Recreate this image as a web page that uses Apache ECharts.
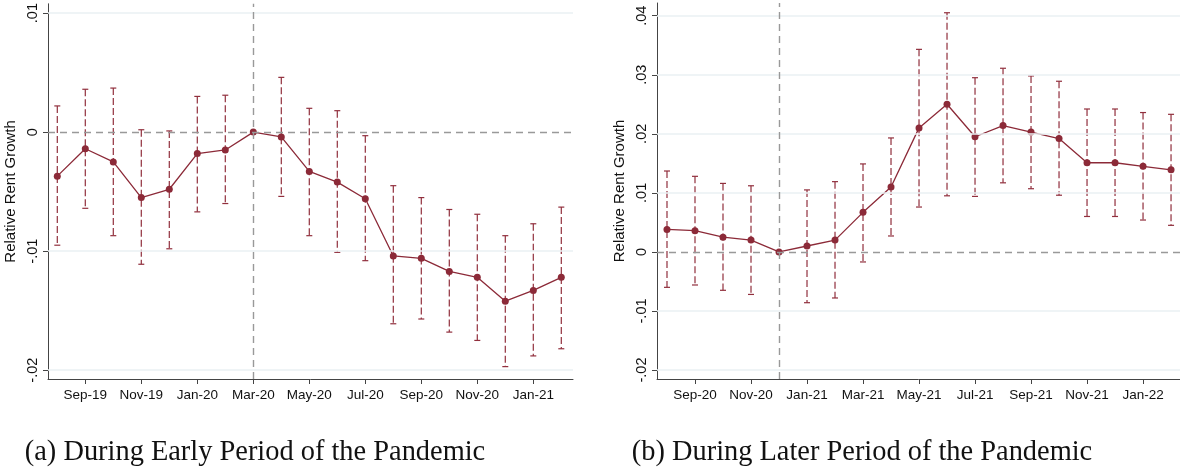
<!DOCTYPE html>
<html>
<head>
<meta charset="utf-8">
<script src="https://cdn.jsdelivr.net/npm/echarts@6/dist/echarts.min.js"></script>
<style>
  html, body { margin: 0; padding: 0; background: #fff; }
  #chart { width: 1180px; height: 475px; }
</style>
</head>
<body>
<div id="chart"></div>
<script>
// panel (a): early period
var monthsA = ['Aug-19','Sep-19','Oct-19','Nov-19','Dec-19','Jan-20','Feb-20','Mar-20','Apr-20','May-20',
               'Jun-20','Jul-20','Aug-20','Sep-20','Oct-20','Nov-20','Dec-20','Jan-21','Feb-21'];
var estA   = [-0.0037,-0.0014,-0.0025,-0.0055,-0.0048,-0.0018,-0.0015,0,-0.0004,-0.0033,
              -0.0042,-0.0056,-0.0104,-0.0106,-0.0117,-0.0122,-0.0142,-0.0133,-0.0122];
var lowA   = [-0.0095,-0.0064,-0.0087,-0.0111,-0.0098,-0.0067,-0.0060,null,-0.0054,-0.0087,
              -0.0101,-0.0108,-0.0161,-0.0157,-0.0168,-0.0175,-0.0197,-0.0188,-0.0182];
var highA  = [0.0022,0.0036,0.0037,0.0002,0.0001,0.0030,0.0031,null,0.0046,0.0020,
              0.0018,-0.0003,-0.0045,-0.0055,-0.0065,-0.0069,-0.0087,-0.0077,-0.0063];
var ticksA = ['Sep-19','Nov-19','Jan-20','Mar-20','May-20','Jul-20','Sep-20','Nov-20','Jan-21'];
var yTicksA = [-0.02, -0.01, 0, 0.01];
var refA = 'Mar-20';

// panel (b): later period
var monthsB = ['Aug-20','Sep-20','Oct-20','Nov-20','Dec-20','Jan-21','Feb-21','Mar-21','Apr-21','May-21',
               'Jun-21','Jul-21','Aug-21','Sep-21','Oct-21','Nov-21','Dec-21','Jan-22','Feb-22'];
var estB   = [0.0038,0.0036,0.0025,0.0020,0,0.0010,0.0020,0.0067,0.0110,0.0210,
              0.0250,0.0195,0.0214,0.0203,0.0192,0.0151,0.0151,0.0145,0.0139];
var lowB   = [-0.0060,-0.0056,-0.0065,-0.0072,null,-0.0086,-0.0078,-0.0017,0.0027,0.0076,
              0.0095,0.0094,0.0117,0.0107,0.0096,0.0060,0.0060,0.0054,0.0045];
var highB  = [0.0137,0.0128,0.0116,0.0112,null,0.0105,0.0119,0.0149,0.0193,0.0343,
              0.0405,0.0295,0.0311,0.0298,0.0289,0.0242,0.0242,0.0236,0.0233];
var ticksB = ['Sep-20','Nov-20','Jan-21','Mar-21','May-21','Jul-21','Sep-21','Nov-21','Jan-22'];
var yTicksB = [-0.02, -0.01, 0, 0.01, 0.02, 0.03, 0.04];
var refB = 'Dec-20';

var lineColor = '#8c2a38';
var barColor = '#912f3d';
var font = 'Liberation Sans, Arial, sans-serif';

function fmtY(v) {
    if (v === 0) return '0';
    var s = String(Math.abs(v)).replace(/^0/, '');
    return (v < 0 ? '-' : '') + s;
}

function renderBar(params, api) {
    if (api.value(1) == null || isNaN(api.value(1))) return;
    var x = api.value(0);
    var lo = api.coord([x, api.value(1)]);
    var hi = api.coord([x, api.value(2)]);
    var half = 3;
    var st = { stroke: barColor, lineWidth: 1.2 };
    return {
        type: 'group',
        children: [
            { type: 'line', shape: { x1: hi[0], y1: hi[1], x2: lo[0], y2: lo[1] },
              style: { stroke: barColor, lineWidth: 1.2, lineDash: [7, 3] } },
            { type: 'line', shape: { x1: hi[0] - half, y1: hi[1], x2: hi[0] + half, y2: hi[1] }, style: st },
            { type: 'line', shape: { x1: lo[0] - half, y1: lo[1], x2: lo[0] + half, y2: lo[1] }, style: st }
        ]
    };
}

function xAxisFor(idx, months, ticks, min, max) {
    var vals = ticks.map(function (m) { return months.indexOf(m); });
    return {
        type: 'value', gridIndex: idx, min: min, max: max,
        axisLine: { show: true, onZero: false, lineStyle: { color: '#444', width: 1 } },
        axisTick: { show: true, length: 5, customValues: vals, lineStyle: { color: '#444' } },
        axisLabel: { customValues: vals, margin: 9, fontFamily: font, fontSize: 13.5, color: '#111',
                     formatter: function (v) { return months[Math.round(v)]; } },
        splitLine: { show: false }
    };
}

function yAxisFor(idx, ticks, min, max) {
    return {
        type: 'value', gridIndex: idx, min: min, max: max,
        name: 'Relative Rent Growth', nameLocation: 'middle', nameRotate: 90, nameGap: 30,
        nameTextStyle: { fontFamily: font, fontSize: 15, color: '#111' },
        axisLine: { show: true, onZero: false, lineStyle: { color: '#444', width: 1 } },
        axisTick: { show: true, length: 5, customValues: ticks, lineStyle: { color: '#444' } },
        axisLabel: { customValues: ticks, rotate: 90, margin: 8, fontFamily: font, fontSize: 14.5, color: '#111',
                     formatter: fmtY },
        splitLine: { show: false }
    };
}

function seriesFor(idx, months, est, low, high, yTicks, ref) {
    var grid = yTicks.filter(function (v) { return v !== 0; }).map(function (v) {
        return { yAxis: v, lineStyle: { color: '#eaf1f3', width: 1.5, type: 'solid' } };
    });
    var refLines = [
        { yAxis: 0, lineStyle: { color: '#999', width: 1.4, type: [7, 5] } },
        { xAxis: months.indexOf(ref), lineStyle: { color: '#999', width: 1.4, type: [7, 5] } }
    ];
    return [
        { type: 'line', xAxisIndex: idx, yAxisIndex: idx, data: [], z: 1,
          markLine: { silent: true, symbol: 'none', label: { show: false }, animation: false, data: grid } },
        { type: 'line', xAxisIndex: idx, yAxisIndex: idx, data: [], z: 2,
          markLine: { silent: true, symbol: 'none', label: { show: false }, animation: false, data: refLines } },
        { type: 'custom', xAxisIndex: idx, yAxisIndex: idx, z: 3, renderItem: renderBar,
          data: months.map(function (m, i) { return [i, low[i], high[i]]; }) },
        { type: 'line', xAxisIndex: idx, yAxisIndex: idx, z: 4,
          symbol: 'circle', symbolSize: 7,
          itemStyle: { color: lineColor },
          lineStyle: { color: lineColor, width: 1.3 },
          data: est.map(function (v, i) { return [i, v]; }) }
    ];
}

var chart = echarts.init(document.getElementById('chart'));
var option = {
    animation: false,
    backgroundColor: '#fff',
    grid: [
        { left: 48, top: 3, width: 525, height: 376 },
        { left: 657, top: 3, width: 523, height: 376 }
    ],
    xAxis: [
        xAxisFor(0, monthsA, ticksA, -0.332, 18.418),
        xAxisFor(1, monthsB, ticksB, -0.357, 18.32)
    ],
    yAxis: [
        yAxisFor(0, yTicksA, -0.02074, 0.01078),
        yAxisFor(1, yTicksB, -0.02152, 0.04215)
    ],
    series: seriesFor(0, monthsA, estA, lowA, highA, yTicksA, refA)
        .concat(seriesFor(1, monthsB, estB, lowB, highB, yTicksB, refB)),
    graphic: [
        { type: 'text', x: 255, y: 453,
          style: { text: '(a) During Early Period of the Pandemic', fontFamily: 'Liberation Serif, serif',
                   fontSize: 28.4, fill: '#111', textAlign: 'center', textVerticalAlign: 'middle' } },
        { type: 'text', x: 862, y: 453,
          style: { text: '(b) During Later Period of the Pandemic', fontFamily: 'Liberation Serif, serif',
                   fontSize: 28.4, fill: '#111', textAlign: 'center', textVerticalAlign: 'middle' } }
    ]
};
chart.setOption(option);
</script>
</body>
</html>
